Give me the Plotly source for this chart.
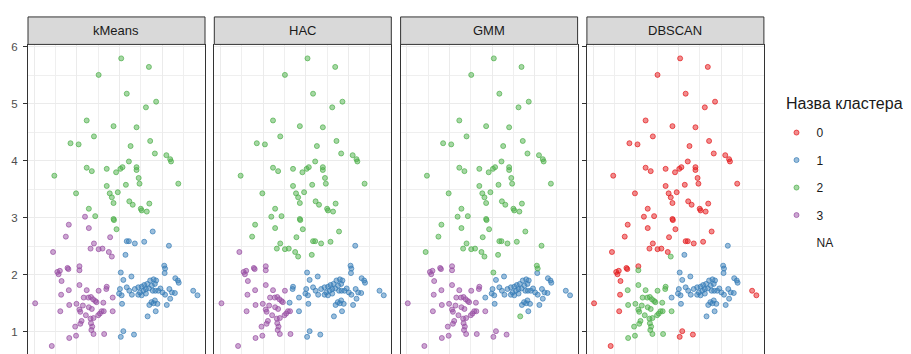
import plotly.graph_objects as go

# ---------------- data ----------------
methods = ["kMeans", "HAC", "GMM", "DBSCAN"]
cluster_names = ["0", "1", "2", "3"]
y_ticks = [1, 2, 3, 4, 5, 6]
legend_title = "Назва кластера"

x_vals = [
    # upper group
    3.04, 3.69, 2.51, 3.17, 3.86, 3.62, 2.23, 2.86, 3.40, 2.40,
    1.85, 2.04, 3.72, 3.26, 3.83, 4.10, 4.19, 4.21, 3.22, 2.23,
    2.35, 2.70, 2.92, 3.02, 3.07, 3.40, 3.40, 1.47, 3.45, 3.47,
    4.38, 2.70, 3.15, 1.98, 2.77, 2.96, 2.82, 2.86, 3.23, 3.31,
    3.50, 3.52, 3.64, 3.70, 2.28, 2.43, 2.86, 2.87, 2.93,
    # middle-left group
    2.19, 1.81, 2.28, 1.74, 2.78, 2.40, 2.32, 2.51, 2.60, 2.75, 2.82, 1.44,
    # lower-left group
    1.54, 1.60, 1.57, 1.78, 1.80, 2.06, 2.06, 1.64, 2.70, 2.69,
    2.06, 1.81, 1.63, 2.23, 2.51, 1.02, 1.61, 1.82, 1.99, 2.16,
    2.27, 2.33, 2.38, 2.43, 2.46, 2.14, 2.06, 2.08, 2.28, 2.35,
    2.62, 2.84, 2.84, 2.21, 2.11, 2.08, 1.96, 2.32, 2.39, 2.50,
    2.54, 2.58, 2.63, 2.33, 2.36, 2.34, 2.39, 2.64, 1.98, 1.82, 1.41,
    # lower-right group
    3.78, 3.17, 3.22, 3.36, 3.58, 4.16, 3.14, 4.05, 4.07, 4.06,
    3.03, 3.28, 3.09, 4.31, 4.37, 4.39, 3.01, 2.99, 3.05, 3.17,
    3.23, 3.29, 3.36, 3.44, 3.52, 3.58, 3.65, 3.72, 3.80, 3.86,
    3.83, 3.76, 3.69, 3.62, 3.56, 3.48, 3.44, 3.52, 3.62, 3.78,
    3.84, 3.91, 3.96, 4.01, 4.07, 4.17, 4.23, 4.30, 4.19, 4.11,
    3.70, 3.75, 3.80, 3.83, 3.89, 3.85, 3.66, 3.06, 4.73, 4.83,
    3.09, 3.03, 3.34,
]

y_vals = [
    5.80, 5.65, 5.51, 5.18, 5.04, 4.94, 4.71, 4.61, 4.59, 4.43,
    4.31, 4.29, 4.35, 4.26, 4.13, 4.10, 4.03, 3.99, 3.99, 3.88,
    3.82, 3.86, 3.80, 3.86, 3.89, 3.89, 3.84, 3.74, 3.70, 3.60,
    3.60, 3.56, 3.58, 3.43, 3.43, 3.45, 3.36, 3.26, 3.29, 3.23,
    3.16, 3.13, 3.11, 3.25, 3.16, 3.03, 2.98, 2.96, 2.80,
    3.02, 2.88, 2.82, 2.67, 2.66, 2.55, 2.46, 2.45, 2.46, 2.40, 2.32, 2.40,
    2.05, 2.07, 2.01, 2.12, 2.10, 2.15, 2.08, 1.89, 1.79, 1.75,
    1.82, 1.73, 1.65, 1.73, 1.72, 1.50, 1.36, 1.47, 1.49, 1.60,
    1.60, 1.61, 1.57, 1.54, 1.52, 1.46, 1.39, 1.35, 1.43, 1.40,
    1.51, 1.60, 1.36, 1.29, 1.19, 1.14, 1.09, 1.23, 1.24, 1.29,
    1.32, 1.36, 1.36, 1.15, 1.09, 1.03, 0.96, 0.96, 0.93, 0.89, 0.75,
    2.76, 2.59, 2.59, 2.55, 2.58, 2.51, 2.35, 2.16, 2.11, 2.03,
    2.04, 1.97, 1.91, 1.94, 1.90, 1.86, 1.75, 1.67, 1.64, 1.78,
    1.72, 1.65, 1.75, 1.78, 1.79, 1.82, 1.84, 1.90, 1.92, 1.90,
    1.84, 1.81, 1.76, 1.75, 1.72, 1.69, 1.65, 1.64, 1.67, 1.72,
    1.72, 1.72, 1.76, 1.69, 1.65, 1.75, 1.69, 1.68, 1.58, 1.47,
    1.47, 1.52, 1.50, 1.55, 1.49, 1.36, 1.27, 1.49, 1.72, 1.64,
    1.01, 0.91, 0.95,
]

# cluster label of every point, per method (same point order as above)
kmeans_labels = (
    "2222222222 2222222222 2222222222 2222222222 222222222 "
    "33333333333 3 "
    "3333333333 3333333333 3333333333 3333333333 3333333333 3 "
    "1111111111 1111111111 1111111111 1111111111 1111111111 1111111111 111"
)
hac_labels = (
    "2222222222 2222222222 2222222222 2222222222 222222222 "
    "22222222222 3 "
    "33333333 11 33333333333333333333 111 333333333333333333 "
    "22222 1 2 1111111111 1111111111 1111111111 1111111111 1111111111 111111"
)
gmm_labels = (
    "2222222222 2222222222 2222222222 2222222222 222222222 "
    "22222222222 2 "
    "3333333333 3333333333 3333333333 3 1 3333333333 333333333 "
    "222222222 1 2 1111111111 1111111111 1111111111 1111111111 11111 2 111 333"
)
dbscan_labels = (
    "0000000000 0000000000 0000000000 0000000000 000000000 "
    "0000000000 2 0 "
    "000000 2 0 2222 0 22 00 22222222222222 1 222222222222222222 0 "
    "00000 1111111111 1111111111 1111111111 1111111111 1111111111 111 00000"
)

# ---------------- styling ----------------
OFF = 8                      # page body margin of the browser
W, H = 911 - OFF, 354 - OFF  # figure size so that it fits inside the window
colors = {"0": (228, 26, 28), "1": (55, 126, 184), "2": (77, 175, 74), "3": (152, 78, 163)}
FONT = "Liberation Sans, Arial, sans-serif"

# layout geometry in window pixels
panel_left_px = [28.0, 214.3, 400.6, 586.9]
panel_w = 177.0
plot_top_px = 41.7
strip_top_px = 14.0
x_range = [0.852, 0.852 + panel_w / 42.6]
y_range = [6.0 - (354 - 44.3) / 57.45, 6.0 + (44.3 - plot_top_px) / 57.45]


def fx(px):
    return (px - OFF) / W


def fy(py):
    return (H - (py - OFF)) / H


label_sets = []
for s in [kmeans_labels, hac_labels, gmm_labels, dbscan_labels]:
    labs = [c for c in s if c != " "]
    assert len(labs) == len(x_vals) == len(y_vals), (len(labs), len(x_vals), len(y_vals))
    label_sets.append(labs)

fig = go.Figure()

for lab in cluster_names:
    first = True
    r, g, b = colors[lab]
    for i, labs in enumerate(label_sets):
        idx = [k for k, c in enumerate(labs) if c == lab]
        if not idx:
            continue
        suffix = "" if i == 0 else str(i + 1)
        fig.add_trace(go.Scatter(
            x=[x_vals[k] for k in idx],
            y=[y_vals[k] for k in idx],
            mode="markers",
            xaxis="x" + suffix, yaxis="y" + suffix,
            name=lab, legendgroup=lab, showlegend=first,
            marker=dict(size=5, color=f"rgba({r},{g},{b},0.5)",
                        line=dict(color=f"rgba({r},{g},{b},0.7)", width=1)),
            hoverinfo="skip",
        ))
        first = False

# NA entry in legend (no visible marker)
fig.add_trace(go.Scatter(x=[None], y=[None], mode="markers", name="NA",
                         legendgroup="NA", showlegend=True,
                         marker=dict(size=5, color="rgba(0,0,0,0)")))

layout = dict(
    width=W, height=H,
    margin=dict(l=0, r=0, t=0, b=0),
    paper_bgcolor="white", plot_bgcolor="white",
    font=dict(family=FONT, color="#1A1A1A"),
    showlegend=True,
    legend=dict(
        x=fx(776.5), y=fy(116), xanchor="left", yanchor="top",
        font=dict(size=12, color="#1A1A1A"),
        tracegroupgap=8.5, bgcolor="rgba(0,0,0,0)", itemsizing="trace",
    ),
)

shapes = []
annotations = []
for i, name in enumerate(methods):
    suffix = "" if i == 0 else str(i + 1)
    l = panel_left_px[i]
    dom = [fx(l), fx(l + panel_w)]
    layout["xaxis" + suffix] = dict(
        domain=dom, range=x_range, anchor="y" + suffix,
        showgrid=True, gridcolor="#EBEBEB", gridwidth=1,
        tick0=1, dtick=1, showticklabels=False, ticks="", zeroline=False,
        showline=False,
        minor=dict(dtick=0.5, tick0=0.5, showgrid=True, gridcolor="#EFEFEF", gridwidth=0.7),
    )
    ydict = dict(
        domain=[0, fy(plot_top_px)], range=y_range, anchor="x" + suffix,
        showgrid=True, gridcolor="#EBEBEB", gridwidth=1,
        tickvals=y_ticks, zeroline=False,
        showline=True, linecolor="#333333", linewidth=1, mirror=True,
        minor=dict(dtick=0.5, tick0=0.5, showgrid=True, gridcolor="#EFEFEF", gridwidth=0.7),
    )
    if i == 0:
        ydict.update(ticks="outside", ticklen=4, tickwidth=1, tickcolor="#333333",
                     showticklabels=True, tickfont=dict(size=11.5, color="#4D4D4D"),
                     ticklabelstandoff=3)
    elif i == 3:
        ydict.update(ticks="outside", ticklen=4, tickwidth=1, tickcolor="#333333",
                     showticklabels=False)
    else:
        ydict.update(ticks="", showticklabels=False)
    layout["yaxis" + suffix] = ydict

    shapes.append(dict(type="rect", xref="paper", yref="paper",
                       x0=dom[0], x1=dom[1],
                       y0=fy(plot_top_px), y1=fy(strip_top_px),
                       fillcolor="#D9D9D9", line=dict(color="#333333", width=1), layer="above"))
    annotations.append(dict(text=name, xref="paper", yref="paper",
                            x=(dom[0] + dom[1]) / 2, y=fy((plot_top_px + strip_top_px) / 2),
                            xanchor="center", yanchor="middle", showarrow=False,
                            font=dict(size=13, color="#1A1A1A", family=FONT)))

# legend title
annotations.append(dict(text=legend_title, xref="paper", yref="paper",
                        x=fx(784), y=fy(101), xanchor="left", yanchor="middle",
                        showarrow=False, font=dict(size=16, color="#1A1A1A", family=FONT)))

layout["shapes"] = shapes
layout["annotations"] = annotations
fig.update_layout(**layout)

fig.write_html("out.html")
